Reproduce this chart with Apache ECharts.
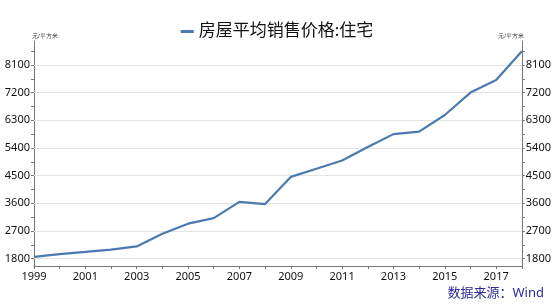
<!DOCTYPE html>
<html>
<head>
<meta charset="utf-8">
<script src="https://cdn.jsdelivr.net/npm/echarts@6/dist/echarts.min.js"></script>
<style>html,body{margin:0;padding:0;background:#fff}#c{width:554px;height:305px}</style>
</head>
<body>
<div id="c"></div>
<script>
var years = ['1999','2000','2001','2002','2003','2004','2005','2006','2007','2008','2009','2010','2011','2012','2013','2014','2015','2016','2017','2018'];
var seriesName = '房屋平均销售价格:住宅';
var prices = [1857, 1948, 2017, 2092, 2197, 2608, 2937, 3119, 3645, 3576, 4459, 4725, 4993, 5430, 5850, 5933, 6473, 7203, 7614, 8544];
var yLabels = [1800, 2700, 3600, 4500, 5400, 6300, 7200, 8100];
var yTicks = [1800, 2250, 2700, 3150, 3600, 4050, 4500, 4950, 5400, 5850, 6300, 6750, 7200, 7650, 8100, 8550];
var unitName = '元/平方米';
var sourceText = '数据来源：Wind';

var font = '"Noto Sans", "Noto Sans CJK SC", sans-serif';
function yAxisCfg(pos) {
  return {
    type: 'value', position: pos, min: 1560, max: 8880,
    name: unitName, nameLocation: 'end', nameGap: 2,
    nameTextStyle: {fontSize: 6, color: '#333', align: pos === 'left' ? 'left' : 'right', padding: pos === 'left' ? [0,0,0,-2] : [0,-2,0,0]},
    axisLine: {show: true, lineStyle: {color: '#777', width: 1}},
    axisTick: {show: true, length: 3, customValues: yTicks, lineStyle: {color: '#777'}},
    axisLabel: {customValues: yLabels, fontSize: 11, color: '#111', margin: 4, fontFamily: font,
      formatter: function (v) { return String(v); }},
    splitLine: {show: false}
  };
}
var chart = echarts.init(document.getElementById('c'));
chart.setOption({
  animation: false,
  legend: {
    top: 18, left: 'center', itemWidth: 13, itemHeight: 3, itemGap: 2,
    textStyle: {fontSize: 17, color: '#111', fontFamily: font},
    icon: 'rect',
    data: [seriesName]
  },
  graphic: [{
    type: 'text', right: 10, top: 287,
    style: {text: sourceText, fontSize: 13, fill: '#2b2b96', fontFamily: font}
  }],
  grid: {left: 34, right: 32, top: 41, bottom: 39},
  xAxis: {
    type: 'category', data: years, boundaryGap: false,
    axisLine: {lineStyle: {color: '#777'}},
    axisTick: {interval: 0, length: 3, lineStyle: {color: '#777'}},
    axisLabel: {interval: 1, fontSize: 11, color: '#111', margin: 5, fontFamily: font},
    splitLine: {show: false}
  },
  yAxis: [yAxisCfg('left'), yAxisCfg('right')],
  series: [{
    name: seriesName, type: 'line', data: prices, yAxisIndex: 0,
    symbol: 'none', lineStyle: {color: '#4c7ab0', width: 2.2},
    itemStyle: {color: '#4c7ab0'},
    markLine: {
      silent: true, symbol: 'none', label: {show: false},
      lineStyle: {color: '#e4e4e4', type: 'solid', width: 1},
      data: yLabels.map(function (v) { return {yAxis: v}; }),
      z: 1
    }
  }]
});
</script>
</body>
</html>
